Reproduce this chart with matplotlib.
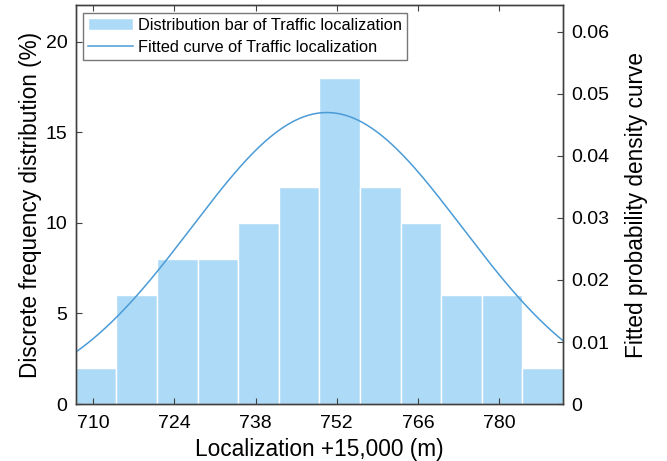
import numpy as np
import matplotlib
matplotlib.use("Agg")
import matplotlib.pyplot as plt

plt.rcParams['font.family'] = ['Liberation Sans', 'DejaVu Sans']

# Histogram bins (m, offset by 15,000) and percentage per bin
bin_edges = [707, 714, 721, 728, 735, 742, 749, 756, 763, 770, 777, 784, 791]
freq_percent = [2, 6, 8, 8, 10, 12, 18, 12, 10, 6, 6, 2]

# Fitted normal curve parameters
fit_mean = 750.3
fit_sigma = 23.3
fit_peak = 0.047

x_ticks = [710, 724, 738, 752, 766, 780]
left_ticks = [0, 5, 10, 15, 20]
right_ticks = [0, 0.01, 0.02, 0.03, 0.04, 0.05, 0.06]
right_labels = ['0', '0.01', '0.02', '0.03', '0.04', '0.05', '0.06']

bar_color = '#ADDAF7'
line_color = '#4A9BD6'
spine_color = '#404040'

fig = plt.figure(figsize=(6.67, 4.61), dpi=100)
ax = fig.add_axes([0.1135, 0.1236, 0.7305, 0.865])

widths = np.diff(bin_edges)
bars = ax.bar(bin_edges[:-1], freq_percent, width=widths, align='edge',
              color=bar_color, edgecolor='white', linewidth=1.0)
ax.set_xlim(bin_edges[0], bin_edges[-1])
ax.set_ylim(0, 22)
ax.set_xticks(x_ticks)
ax.set_yticks(left_ticks)
ax.tick_params(axis='both', direction='in', labelsize=14, colors=spine_color,
               labelcolor='black', length=4)
ax.tick_params(axis='x', top=True, pad=8)
ax.tick_params(axis='y', pad=6)
ax.set_xlabel('Localization +15,000 (m)', fontsize=16.3)
ax.set_ylabel('Discrete frequency distribution (%)', fontsize=16.3)
ax.xaxis.set_label_coords(0.5, -0.085)
ax.yaxis.set_label_coords(-0.069, 0.5)

ax2 = ax.twinx()
xs = np.linspace(bin_edges[0], bin_edges[-1], 400)
ys = fit_peak * np.exp(-0.5 * ((xs - fit_mean) / fit_sigma) ** 2)
line, = ax2.plot(xs, ys, color=line_color, linewidth=1.1)
ax2.set_ylim(0, 0.0643)
ax2.set_yticks(right_ticks)
ax2.set_yticklabels(right_labels)
ax2.tick_params(axis='y', direction='in', labelsize=14, colors=spine_color,
                labelcolor='black', length=4, pad=6)
ax2.set_ylabel('Fitted probability density curve', fontsize=16.3)
ax2.yaxis.set_label_coords(1.127, 0.5)

for a in (ax, ax2):
    for s in a.spines.values():
        s.set_color(spine_color)
        s.set_linewidth(1.0)

leg = ax2.legend([bars, line],
                 ['Distribution bar of Traffic localization',
                  'Fitted curve of Traffic localization'],
                 loc='upper left', fontsize=11.8, frameon=True, fancybox=False,
                 edgecolor='#555555', borderpad=0.3, labelspacing=0.45,
                 handlelength=2.75, handletextpad=0.3,
                 bbox_to_anchor=(0.0, 1.0), borderaxespad=0.45)
leg.get_frame().set_linewidth(1.0)

fig.savefig('out.png', dpi=100)
